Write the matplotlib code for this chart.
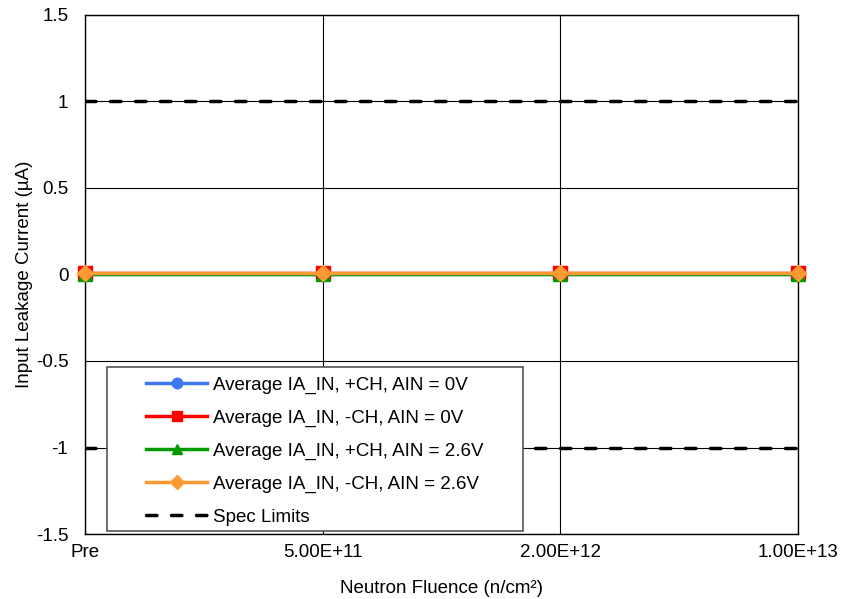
import numpy as np
import matplotlib.pyplot as plt
from matplotlib.patches import Rectangle

plt.rcParams['font.family'] = ['Liberation Sans', 'DejaVu Sans']

# categories on the x axis
fluence = ['Pre', '5.00E+11', '2.00E+12', '1.00E+13']

# average input leakage current (uA)
pos_0v = [0.005, 0.005, 0.005, 0.005]
neg_0v = [0.008, 0.008, 0.008, 0.008]
pos_26v = [0.002, 0.002, 0.002, 0.002]
neg_26v = [0.006, 0.006, 0.006, 0.006]
spec_hi = [1, 1, 1, 1]
spec_lo = [-1, -1, -1, -1]

x = np.arange(len(fluence))

fig = plt.figure(figsize=(8.41, 5.99), dpi=100)
ax = fig.add_axes([0.1011, 0.1085, 0.8478, 0.8665])

dash = (0, (3.0, 4.2))
spec_handle, = ax.plot(x, spec_hi, color='black', lw=2.5, ls=dash, dash_capstyle='round',
                       label='Spec Limits', zorder=2)
ax.plot(x, spec_lo, color='black', lw=2.5, ls=dash, dash_capstyle='round', zorder=2)

series = [
    (pos_0v, '#3c78f0', 'o', 'Average IA_IN, +CH, AIN = 0V'),
    (neg_0v, '#ff0000', 's', 'Average IA_IN, -CH, AIN = 0V'),
    (pos_26v, '#009900', '^', 'Average IA_IN, +CH, AIN = 2.6V'),
    (neg_26v, '#ff9933', 'D', 'Average IA_IN, -CH, AIN = 2.6V'),
]
handles = []
for vals, col, mk, lab in series:
    h, = ax.plot(x, vals, color=col, marker=mk, ms=9.5 if mk != 'D' else 8.5, lw=2.5,
                 label=lab, clip_on=False, zorder=3)
    handles.append(h)

ax.set_xlim(0, 3)
ax.set_ylim(-1.5, 1.5)
ax.set_yticks(np.arange(-1.5, 1.51, 0.5))
ax.set_yticklabels(['-1.5', '-1', '-0.5', '0', '0.5', '1', '1.5'])
ax.set_xticks(x)
ax.set_xticklabels(fluence)
ax.tick_params(axis='both', labelsize=13.5, length=0)
ax.tick_params(axis='y', pad=12)
ax.tick_params(axis='x', pad=7)
ax.grid(True, color='black', lw=0.8)
for s in ax.spines.values():
    s.set_linewidth(1)

ax.set_xlabel('Neutron Fluence (n/cm²)', fontsize=13.5, labelpad=14)
ax.set_ylabel('Input Leakage Current (µA)', fontsize=13.5, labelpad=2)

# legend box drawn separately so the inner padding can match
box = Rectangle((0.0309, 0.0058), 0.583, 0.316, transform=ax.transAxes,
                facecolor='white', edgecolor='#555555', lw=1.2, zorder=4)
ax.add_patch(box)
leg = ax.legend(handles + [spec_handle], [h.get_label() for h in handles] + ['Spec Limits'],
                loc='upper left', bbox_to_anchor=(0.0856, 0.3035), frameon=False,
                fontsize=13.5, handlelength=3.25, handletextpad=0.3, borderpad=0,
                borderaxespad=0, labelspacing=0.84, markerscale=0.8)
leg.set_zorder(5)

fig.savefig('out.png', dpi=100)
